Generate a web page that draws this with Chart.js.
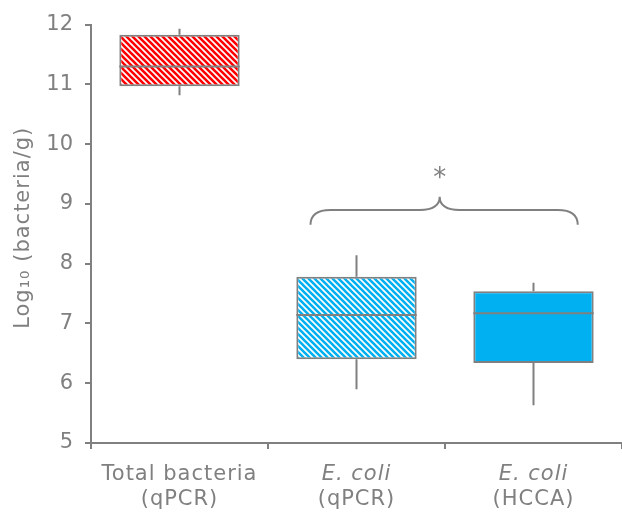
<!DOCTYPE html>
<html>
<head>
<meta charset="utf-8">
<script src="https://cdn.jsdelivr.net/npm/chart.js@4.4.1/dist/chart.umd.min.js"></script>
<style>
  html, body { margin: 0; padding: 0; background: #fff; }
  #wrap { width: 622px; height: 514px; }
</style>
</head>
<body>
<div id="wrap"><canvas id="chart"></canvas></div>
<script>
// Box plot values (log10 bacteria/g)
const categories = ['Total bacteria', 'E. coli', 'E. coli'];
const subLabels = ['(qPCR)', '(qPCR)', '(HCCA)'];
const italicFirstLine = [false, true, true];
const mins = [10.82, 5.90, 5.63];
const q1s = [10.97, 6.40, 6.34];
const medians = [11.30, 7.14, 7.17];
const q3s = [11.83, 7.78, 7.54];
const maxs = [11.93, 8.14, 7.68];
const yTicks = [5, 6, 7, 8, 9, 10, 11, 12];
const yTitle = 'Log\u2081\u2080 (bacteria/g)';

// significance brace between E. coli groups (category index / data units)
const braceFrom = 0.74, braceTo = 2.25, braceMid = 1.47;
const braceY = 8.9, braceEndY = 8.65, bracePeakY = 9.12, starY = 9.52;

const grey = '#808080';
const font = '"DejaVu Sans", Verdana, sans-serif';

// diagonal stripe fill
function stripes(color) {
    const s = 6;
    const c = document.createElement('canvas');
    c.width = s; c.height = s;
    const g = c.getContext('2d');
    g.fillStyle = '#fff';
    g.fillRect(0, 0, s, s);
    g.strokeStyle = color;
    g.lineWidth = 2.6;
    g.beginPath();
    for (let k = -1; k <= 1; k++) {
        g.moveTo(k * s - 1, -1);
        g.lineTo(k * s + s + 1, s + 1);
    }
    g.stroke();
    return g.createPattern(c, 'repeat');
}

const fills = [stripes('#ff0000'), stripes('#00b0f0'), '#00b0f0'];

// whiskers behind the boxes, medians on top, brace + labels
const boxExtras = {
    id: 'boxExtras',
    beforeDatasetsDraw(chart) {
        const ctx = chart.ctx, x = chart.scales.x, y = chart.scales.y;
        ctx.save();
        ctx.strokeStyle = grey;
        ctx.lineWidth = 2;
        categories.forEach((c, i) => {
            const px = x.getPixelForValue(i);
            ctx.beginPath();
            ctx.moveTo(px, y.getPixelForValue(maxs[i]));
            ctx.lineTo(px, y.getPixelForValue(q3s[i]));
            ctx.moveTo(px, y.getPixelForValue(q1s[i]));
            ctx.lineTo(px, y.getPixelForValue(mins[i]));
            ctx.stroke();
        });
        ctx.restore();
    },
    afterDatasetsDraw(chart) {
        const ctx = chart.ctx, x = chart.scales.x, y = chart.scales.y;
        const area = chart.chartArea;
        const meta = chart.getDatasetMeta(0);
        ctx.save();
        ctx.strokeStyle = grey;
        ctx.lineWidth = 2;
        meta.data.forEach((bar, i) => {
            const half = bar.width / 2;
            const py = y.getPixelForValue(medians[i]);
            ctx.beginPath();
            ctx.moveTo(bar.x - half, py);
            ctx.lineTo(bar.x + half, py);
            ctx.stroke();
        });

        // curly brace
        const x0 = x.getPixelForValue(braceFrom), x1 = x.getPixelForValue(braceTo);
        const xm = x.getPixelForValue(braceMid);
        const yb = y.getPixelForValue(braceY), ye = y.getPixelForValue(braceEndY);
        const yp = y.getPixelForValue(bracePeakY);
        const r = 20;
        ctx.beginPath();
        ctx.moveTo(x0, ye);
        ctx.quadraticCurveTo(x0, yb, x0 + r, yb);
        ctx.lineTo(xm - r, yb);
        ctx.quadraticCurveTo(xm, yb, xm, yp);
        ctx.quadraticCurveTo(xm, yb, xm + r, yb);
        ctx.lineTo(x1 - r, yb);
        ctx.quadraticCurveTo(x1, yb, x1, ye);
        ctx.stroke();

        ctx.fillStyle = grey;
        ctx.textAlign = 'center';
        ctx.textBaseline = 'middle';
        ctx.font = '26px ' + font;
        ctx.fillText('*', xm, y.getPixelForValue(starY) + 6);

        // category labels, two lines
        ctx.letterSpacing = '1px';
        ctx.textBaseline = 'alphabetic';
        categories.forEach((c, i) => {
            const px = x.getPixelForValue(i);
            ctx.font = (italicFirstLine[i] ? 'italic ' : '') + '21px ' + font;
            ctx.fillText(c, px, area.bottom + 37);
            ctx.font = '21px ' + font;
            ctx.fillText(subLabels[i], px, area.bottom + 62);
        });

        // y title
        ctx.translate(24, (area.top + area.bottom) / 2 - 6);
        ctx.rotate(-Math.PI / 2);
        ctx.textBaseline = 'middle';
        ctx.font = '21px ' + font;
        ctx.fillText(yTitle, 0, 0);
        ctx.restore();
    }
};

new Chart(document.getElementById('chart'), {
    type: 'bar',
    data: {
        labels: categories,
        datasets: [{
            data: q1s.map((v, i) => [v, q3s[i]]),
            backgroundColor: fills,
            borderColor: grey,
            borderWidth: 2,
            borderSkipped: false,
            barPercentage: 0.68,
            categoryPercentage: 1
        }]
    },
    options: {
        responsive: true,
        maintainAspectRatio: false,
        animation: false,
        layout: { padding: { top: 24, right: 0, bottom: 0, left: 0 } },
        plugins: {
            legend: { display: false },
            tooltip: { enabled: false }
        },
        scales: {
            x: {
                grid: { display: true, drawOnChartArea: false, color: grey, lineWidth: 2, tickLength: 6, offset: true },
                border: { color: grey, width: 2 },
                ticks: { display: false },
                afterFit(scale) { scale.height = 71; }
            },
            y: {
                min: 5,
                max: 12,
                afterBuildTicks(scale) { scale.ticks = yTicks.map(v => ({ value: v })); },
                grid: { display: true, drawOnChartArea: false, color: grey, lineWidth: 2, tickLength: 6 },
                border: { color: grey, width: 2 },
                ticks: { color: grey, font: { family: font, size: 21 }, padding: 12 },
                afterFit(scale) { scale.width = 91; }
            }
        }
    },
    plugins: [boxExtras]
});
</script>
</body>
</html>
